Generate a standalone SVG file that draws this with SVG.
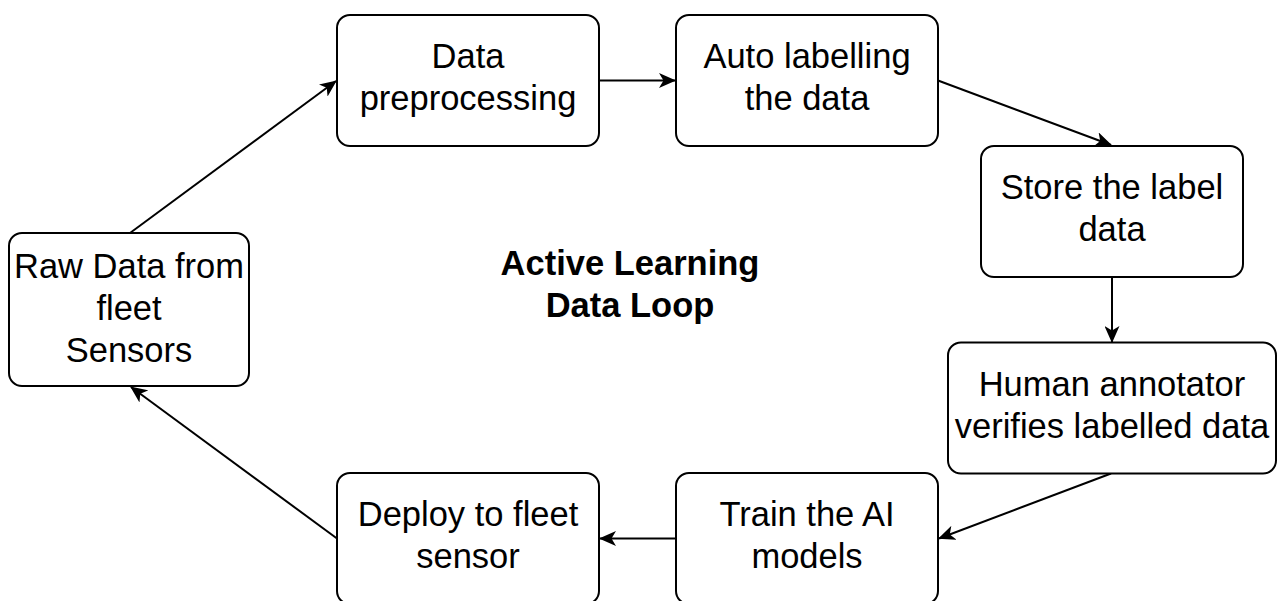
<svg xmlns="http://www.w3.org/2000/svg" width="1278" height="601" viewBox="0 0 1278 601">
  <style>
    .box { fill: #ffffff; stroke: #000000; stroke-width: 2; }
    .lbl { font-family: "Liberation Sans", Arial, Helvetica, sans-serif; font-size: 34.5px; fill: #000000; text-anchor: middle; }
    .title { font-family: "Liberation Sans", Arial, Helvetica, sans-serif; font-size: 34.5px; font-weight: bold; fill: #000000; text-anchor: middle; }
    .edge { fill: none; stroke: #000000; stroke-width: 2; marker-end: url(#arrow); }
  </style>
  <defs>
    <marker id="arrow" markerUnits="userSpaceOnUse" viewBox="0 0 17 15" markerWidth="17" markerHeight="15" refX="16" refY="7.5" orient="auto">
      <path d="M0,0 L17,7.5 L0,15 L4.5,7.5 Z" fill="#000000"/>
    </marker>
  </defs>
  <rect width="1278" height="601" fill="#ffffff"/>

  <g id="connectors">
    <line class="edge" x1="130" y1="233" x2="336" y2="81"/>
    <line class="edge" x1="599" y1="80.5" x2="675" y2="80.5"/>
    <line class="edge" x1="938" y1="80.5" x2="1111" y2="145"/>
    <line class="edge" x1="1112" y1="277" x2="1112" y2="342"/>
    <line class="edge" x1="1111" y1="473.5" x2="939" y2="538.5"/>
    <line class="edge" x1="676" y1="538.5" x2="600" y2="538.5"/>
    <line class="edge" x1="337" y1="538.5" x2="131" y2="387"/>
  </g>

  <g id="title">
    <text class="title" x="630" y="275">Active Learning</text>
    <text class="title" x="630" y="317">Data Loop</text>
  </g>

  <g id="node-data-preprocessing">
    <rect class="box" x="337" y="15" width="262" height="131" rx="13" ry="13"/>
    <text class="lbl" x="468" y="68">Data</text>
    <text class="lbl" x="468" y="110">preprocessing</text>
  </g>

  <g id="node-auto-labelling">
    <rect class="box" x="676" y="15" width="262" height="131" rx="13" ry="13"/>
    <text class="lbl" x="807" y="68">Auto labelling</text>
    <text class="lbl" x="807" y="110">the data</text>
  </g>

  <g id="node-store">
    <rect class="box" x="981" y="146" width="262" height="131" rx="13" ry="13"/>
    <text class="lbl" x="1112" y="199">Store the label</text>
    <text class="lbl" x="1112" y="241">data</text>
  </g>

  <g id="node-human">
    <rect class="box" x="948" y="342.5" width="328" height="131" rx="13" ry="13"/>
    <text class="lbl" x="1112" y="396">Human annotator</text>
    <text class="lbl" x="1112" y="438">verifies labelled data</text>
  </g>

  <g id="node-train">
    <rect class="box" x="676" y="473" width="262" height="131" rx="13" ry="13"/>
    <text class="lbl" x="807" y="526">Train the AI</text>
    <text class="lbl" x="807" y="568">models</text>
  </g>

  <g id="node-deploy">
    <rect class="box" x="337" y="473" width="262" height="131" rx="13" ry="13"/>
    <text class="lbl" x="468" y="526">Deploy to fleet</text>
    <text class="lbl" x="468" y="568">sensor</text>
  </g>

  <g id="node-raw">
    <rect class="box" x="9" y="233" width="240" height="153" rx="13" ry="13"/>
    <text class="lbl" x="129" y="278">Raw Data from</text>
    <text class="lbl" x="129" y="320">fleet</text>
    <text class="lbl" x="129" y="362">Sensors</text>
  </g>
</svg>
